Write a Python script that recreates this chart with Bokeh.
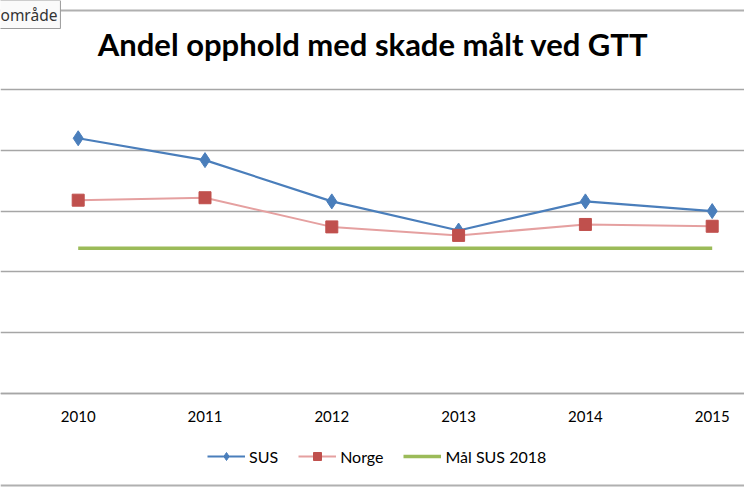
from bokeh.plotting import figure
from bokeh.models import (ColumnDataSource, Legend, LegendItem, FixedTicker, Label,
                          Span, Range1d, LinearAxis)
from bokeh.embed import file_html
from bokeh.resources import INLINE

years = [2010, 2011, 2012, 2013, 2014, 2015]
year_labels = ["2010", "2011", "2012", "2013", "2014", "2015"]
sus = [21.0, 19.2, 15.8, 13.4, 15.8, 15.0]
norge = [15.9, 16.1, 13.7, 13.0, 13.9, 13.75]
maal = [11.95, 11.95, 11.95, 11.95, 11.95, 11.95]
grid_ticks = [0, 5, 10, 15, 20, 25]

title_text = "Andel opphold med skade målt ved GTT"
FONT = "Lato"

W, H = 744, 493
# pixel geometry of the reference: value 0 at y=392.7, 5 units per 60.7 px,
# 2010 at x=77.7, 126.8 px per year
PX_PER_UNIT = 60.7 / 5
PX_PER_YEAR = 126.8
x0 = 2010 - 77.7 / PX_PER_YEAR
x1 = x0 + W / PX_PER_YEAR
y1 = 392.7 / PX_PER_UNIT
y0 = -(H - 392.7) / PX_PER_UNIT

p = figure(width=W, height=H, output_backend="svg", toolbar_location=None,
           x_range=Range1d(x0, x1), y_range=Range1d(y0, y1),
           x_axis_location=None, y_axis_location=None,
           min_border_left=0, min_border_right=0,
           min_border_top=0, min_border_bottom=0)
p.outline_line_color = None
p.xgrid.visible = False
p.ygrid.ticker = FixedTicker(ticks=grid_ticks)
p.ygrid.grid_line_color = "#a6a6a6"
p.ygrid.grid_line_width = 1.5

ax = LinearAxis(fixed_location=0)
ax.ticker = FixedTicker(ticks=years)
ax.major_label_overrides = {y: l for y, l in zip(years, year_labels)}
ax.major_tick_line_color = None
ax.minor_tick_line_color = None
ax.axis_line_color = "#a6a6a6"
ax.axis_line_width = 1.5
ax.major_label_standoff = 12
ax.major_label_text_font = FONT
ax.major_label_text_font_size = "15px"
ax.major_label_text_color = "#000000"
p.add_layout(ax, "below")

src = ColumnDataSource(dict(x=years, sus=sus, norge=norge, maal=maal))

l_sus = p.line("x", "sus", source=src, line_color="#4a7ebb", line_width=2.2)
m_sus = p.scatter("x", "sus", source=src, marker="diamond", size=15,
                  fill_color="#4a7ebb", line_color="#4a7ebb")
l_nor = p.line("x", "norge", source=src, line_color="#e5a0a0", line_width=2)
m_nor = p.scatter("x", "norge", source=src, marker="square", size=12,
                  fill_color="#c0504d", line_color="#c0504d")
l_maal = p.line("x", "maal", source=src, line_color="#9bbb59", line_width=3.5)

legend = Legend(items=[
    LegendItem(label="SUS", renderers=[l_sus, m_sus]),
    LegendItem(label="Norge", renderers=[l_nor, m_nor]),
    LegendItem(label="Mål SUS 2018", renderers=[l_maal]),
], orientation="horizontal", location=(207, 27), padding=0, margin=0,
   spacing=20, glyph_width=38, label_standoff=4, border_line_color=None,
   background_fill_alpha=0, label_text_font=FONT, label_text_font_size="16px",
   label_text_color="#000000")
p.add_layout(legend, "center")

top_border = Span(location=(392.7 - 10) / PX_PER_UNIT, dimension="width",
                  line_color="#b0b0b0", line_width=2)
bot_border = Span(location=-(485 - 392.7) / PX_PER_UNIT, dimension="width",
                  line_color="#b0b0b0", line_width=2)
p.add_layout(top_border)
p.add_layout(bot_border)

title = Label(x=372.5, y=H - 43, x_units="screen", y_units="screen", text=title_text,
              text_align="center", text_baseline="alphabetic", text_font=FONT,
              text_font_style="bold", text_font_size="31px", text_color="#000000")
p.add_layout(title)

tip = Label(x=-3, y=H - 14, x_units="screen", y_units="screen", text="område",
            text_align="left", text_baseline="alphabetic", text_font="Noto Sans",
            text_font_size="15.5px", text_color="#333333",
            background_fill_color="#fafafa", border_line_color="#9a9a9a",
            padding=3)
p.add_layout(tip)

open("out.html", "w").write(file_html(p, INLINE))
